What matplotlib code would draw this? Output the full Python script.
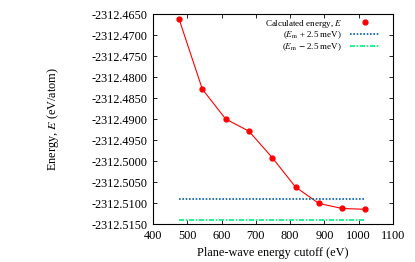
import numpy as np
import matplotlib
matplotlib.use('Agg')
import matplotlib.pyplot as plt

plt.rcParams['font.family'] = ['Liberation Serif', 'DejaVu Serif']
plt.rcParams['mathtext.fontset'] = 'stix'

# cutoff energies (eV) and calculated total energies (eV/atom)
cutoff = [476, 544, 612, 680, 748, 816, 884, 952, 1020]
energy = [-2312.4662, -2312.4829, -2312.4900, -2312.4929, -2312.4992,
          -2312.5062, -2312.5101, -2312.5113, -2312.5115]
e_m = -2312.5115
band = 0.0025
band_x = [476, 1020]

fig = plt.figure(figsize=(4.15, 2.62), dpi=100)
ax = fig.add_axes([0.3687, 0.145, 0.578, 0.8015])

ax.plot(cutoff, energy, '-', color='red', lw=0.8)
ax.plot([], [], 'o', color='red', ms=3.5, label='Calculated energy, $E$')
ax.plot(cutoff, energy, 'o', color='red', ms=3.5)
ax.plot(band_x, [e_m + band] * 2, color='#0060ad', lw=1.2, dashes=(1, 1),
        label=r'($E_{\rm m}$ + 2.5 meV)')
ax.plot(band_x, [e_m - band] * 2, color='#00f080', lw=1.2,
        dashes=(3, 1, 1, 1), label=r'($E_{\rm m}$ $-$ 2.5 meV)')

ax.set_xlim(400, 1100)
ax.set_ylim(-2312.515, -2312.465)
ax.set_xticks(np.arange(400, 1101, 100))
ax.set_yticks(np.arange(-2312.515, -2312.4649, 0.005))
ax.yaxis.set_major_formatter(matplotlib.ticker.FormatStrFormatter('%.4f'))
ax.tick_params(direction='in', top=True, right=True, labelsize=8.8,
               length=3, width=0.6, pad=4)
for s in ax.spines.values():
    s.set_linewidth(0.8)

ax.set_xlabel('Plane-wave energy cutoff (eV)', fontsize=8.8, labelpad=4)
ax.set_ylabel('Energy, $E$ (eV/atom)', fontsize=8.8, labelpad=22)

h, l = ax.get_legend_handles_labels()
leg = ax.legend(h, l, loc='upper right', frameon=False, markerfirst=False,
                fontsize=6.5, handlelength=3.3, handletextpad=0.9,
                labelspacing=0.0, borderaxespad=0.0,
                bbox_to_anchor=(0.962, 1.0))
for col in leg._legend_handle_box.get_children():
    col.align = 'right'

fig.savefig('out.png', dpi=100)
